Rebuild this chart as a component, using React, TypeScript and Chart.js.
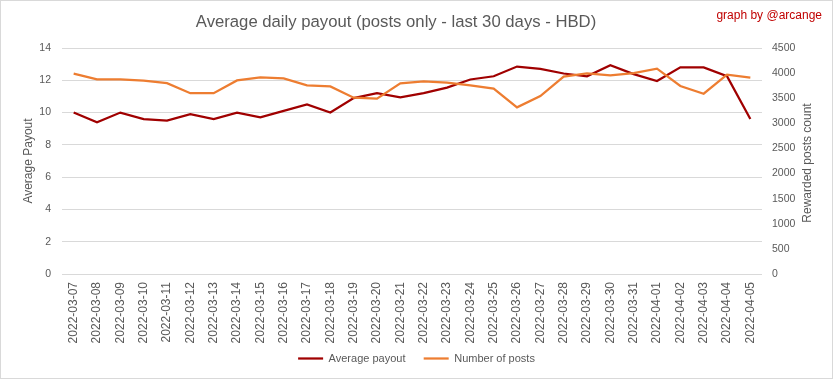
import React, { useEffect, useRef } from "react";
import { Chart, registerables } from "chart.js";

Chart.register(...registerables);

const dates = [
  "2022-03-07", "2022-03-08", "2022-03-09", "2022-03-10", "2022-03-11", "2022-03-12",
  "2022-03-13", "2022-03-14", "2022-03-15", "2022-03-16", "2022-03-17", "2022-03-18",
  "2022-03-19", "2022-03-20", "2022-03-21", "2022-03-22", "2022-03-23", "2022-03-24",
  "2022-03-25", "2022-03-26", "2022-03-27", "2022-03-28", "2022-03-29", "2022-03-30",
  "2022-03-31", "2022-04-01", "2022-04-02", "2022-04-03", "2022-04-04", "2022-04-05",
];

const avgPayout = [
  10.0, 9.4, 10.0, 9.6, 9.5, 9.9, 9.6, 10.0, 9.7, 10.1,
  10.5, 10.0, 10.9, 11.2, 10.95, 11.2, 11.55, 12.05, 12.25, 12.85,
  12.7, 12.42, 12.25, 12.93, 12.38, 11.95, 12.8, 12.8, 12.25, 9.6,
];

const postCount = [
  3990, 3875, 3875, 3850, 3800, 3600, 3600, 3855, 3915, 3895,
  3755, 3735, 3510, 3490, 3796, 3836, 3810, 3756, 3690, 3318,
  3544, 3930, 3995, 3955, 4000, 4088, 3743, 3590, 3968, 3909,
];

const leftAxis = { min: 0, max: 14, step: 2 };
const rightAxis = { min: 0, max: 4500, step: 500 };

const titleText = "Average daily payout (posts only - last 30 days - HBD)";
const creditText = "graph by @arcange";
const leftTitle = "Average Payout";
const rightTitle = "Rewarded posts count";
const seriesNames = ["Average payout", "Number of posts"];

const FONT = "'Liberation Sans', Arial, sans-serif";
const GREY = "#595959";

export default function App() {
  const ref = useRef<HTMLCanvasElement | null>(null);

  useEffect(() => {
    if (!ref.current) return;
    const PAD_BOTTOM = 5;
    const PLOT_BOTTOM = 274;

    const decor = {
      id: "decor",
      beforeDraw(chart: any) {
        const ctx = chart.ctx;
        ctx.save();
        ctx.fillStyle = "#ffffff";
        ctx.fillRect(0, 0, chart.width, chart.height);
        ctx.restore();
      },
      afterDraw(chart: any) {
        const ctx = chart.ctx;
        const ca = chart.chartArea;
        ctx.save();
        ctx.strokeStyle = "#d9d9d9";
        ctx.lineWidth = 1;
        ctx.strokeRect(0.5, 0.5, chart.width - 1, chart.height - 1);

        ctx.fillStyle = GREY;
        ctx.font = `16.7px ${FONT}`;
        ctx.textAlign = "center";
        ctx.textBaseline = "middle";
        ctx.fillText(titleText, 396, 22);

        ctx.fillStyle = "#c00000";
        ctx.font = `12px ${FONT}`;
        ctx.textAlign = "right";
        ctx.fillText(creditText, 822, 16);

        ctx.fillStyle = GREY;
        ctx.font = `12px ${FONT}`;
        ctx.textAlign = "center";
        ctx.translate(808, (ca.top + ca.bottom) / 2 + 2);
        ctx.rotate(-Math.PI / 2);
        ctx.fillText(rightTitle, 0, 0);
        ctx.restore();
      },
    };

    const chart = new Chart(ref.current, {
      type: "line",
      data: {
        labels: dates,
        datasets: [
          {
            label: seriesNames[0],
            data: avgPayout,
            borderColor: "#a00000",
            backgroundColor: "#a00000",
            borderWidth: 2.25,
            pointRadius: 0,
            tension: 0,
            yAxisID: "y",
            order: 1,
          },
          {
            label: seriesNames[1],
            data: postCount,
            borderColor: "#ed7d31",
            backgroundColor: "#ed7d31",
            borderWidth: 2.25,
            pointRadius: 0,
            tension: 0,
            yAxisID: "y1",
            order: 0,
          },
        ],
      },
      options: {
        animation: false,
        responsive: true,
        maintainAspectRatio: false,
        layout: { padding: { top: 48, left: 0, right: 0, bottom: PAD_BOTTOM } },
        plugins: {
          title: { display: false },
          tooltip: { enabled: false },
          legend: {
            display: true,
            position: "bottom",
            labels: {
              usePointStyle: true,
              pointStyle: "line",
              pointStyleWidth: 25,
              padding: 6,
              color: GREY,
              font: { family: FONT, size: 11 },
              sort: (a: any, b: any) => a.datasetIndex - b.datasetIndex,
              generateLabels(chart: any) {
                const items = Chart.defaults.plugins.legend.labels.generateLabels(chart);
                items.sort((a: any, b: any) => a.datasetIndex - b.datasetIndex);
                return items.map((it: any, i: number) =>
                  i < items.length - 1 ? { ...it, text: it.text + "    " } : it
                );
              },
            },
          },
        },
        scales: {
          x: {
            type: "category",
            offset: true,
            grid: { display: false, drawTicks: false },
            border: { display: false },
            ticks: {
              autoSkip: false,
              maxRotation: 90,
              minRotation: 90,
              padding: 8,
              color: GREY,
              font: { family: FONT, size: 12 },
            },
            afterFit(scale: any) {
              const lh = scale.chart.legend ? scale.chart.legend.height : 0;
              scale.height = scale.chart.height - PLOT_BOTTOM - lh - PAD_BOTTOM;
            },
          },
          y: {
            position: "left",
            min: leftAxis.min,
            max: leftAxis.max,
            ticks: {
              stepSize: leftAxis.step,
              padding: 11,
              color: GREY,
              font: { family: FONT, size: 10.5 },
            },
            grid: { color: "#d9d9d9", lineWidth: 1, drawTicks: false },
            border: { display: false },
            title: {
              display: true,
              text: leftTitle,
              color: GREY,
              font: { family: FONT, size: 12 },
              padding: { top: 21, bottom: 0 },
            },
            afterFit(scale: any) {
              scale.width = 62;
            },
          },
          y1: {
            position: "right",
            min: rightAxis.min,
            max: rightAxis.max,
            ticks: {
              stepSize: rightAxis.step,
              padding: 10,
              color: GREY,
              font: { family: FONT, size: 10.5 },
              callback: (v: any) => String(v),
            },
            grid: { drawOnChartArea: false, drawTicks: false },
            border: { display: false },
            afterFit(scale: any) {
              scale.width = 71;
            },
          },
        },
      },
      plugins: [decor],
    } as any);

    return () => chart.destroy();
  }, []);

  return (
    <div style={{ position: "absolute", left: 0, top: 0, width: 833, height: 379 }}>
      <canvas ref={ref} />
    </div>
  );
}
